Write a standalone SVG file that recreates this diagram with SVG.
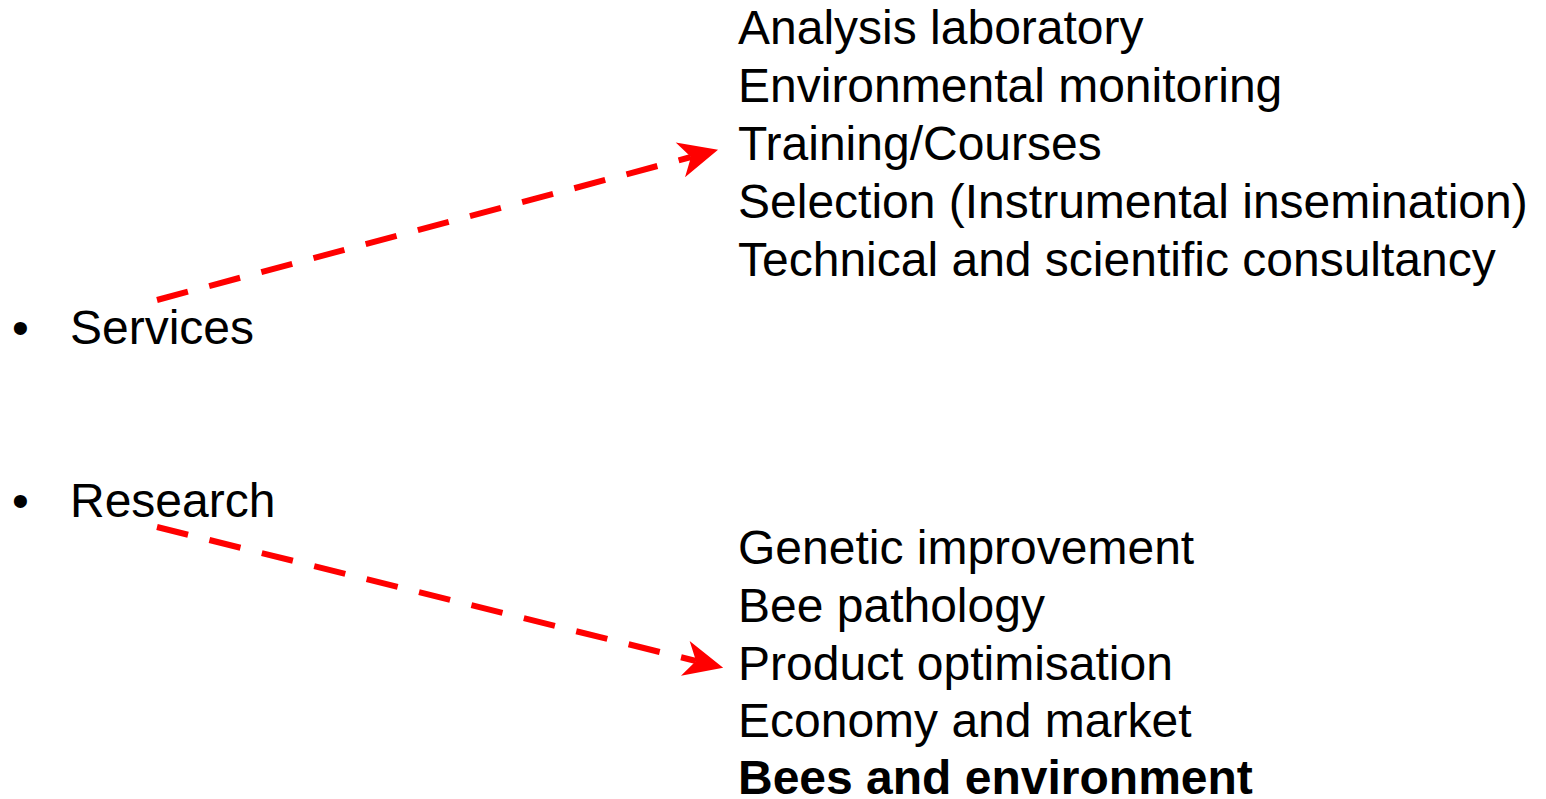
<svg xmlns="http://www.w3.org/2000/svg" width="1546" height="799" viewBox="0 0 1546 799">
  <style>
    text { font-family: "Liberation Sans", Arial, sans-serif; font-size: 48px; fill: #000; }
    .bold { font-weight: bold; }
    .link { fill: none; stroke: #ff0000; stroke-width: 6; stroke-dasharray: 32 22; marker-end: url(#stealth); }
  </style>
  <defs>
    <marker id="stealth" markerUnits="userSpaceOnUse" markerWidth="60" markerHeight="60" refX="0" refY="0" orient="auto" overflow="visible" viewBox="-30 -30 60 60">
      <path d="M28,0 L-11,-18 L0,0 L-11,18 Z" fill="#ff0000"/>
    </marker>
  </defs>

  <g id="services">
    <text x="12" y="344">•</text>
    <text x="70" y="344">Services</text>
  </g>

  <g id="research">
    <text x="12" y="517">•</text>
    <text x="70" y="517">Research</text>
  </g>

  <g id="services-list">
    <text x="738" y="44">Analysis laboratory</text>
    <text x="738" y="102">Environmental monitoring</text>
    <text x="738" y="160">Training/Courses</text>
    <text x="738" y="218">Selection (Instrumental insemination)</text>
    <text x="738" y="276">Technical and scientific consultancy</text>
  </g>

  <g id="research-list">
    <text x="738" y="564">Genetic improvement</text>
    <text x="738" y="622">Bee pathology</text>
    <text x="738" y="680">Product optimisation</text>
    <text x="738" y="737">Economy and market</text>
    <text x="738" y="794" class="bold">Bees and environment</text>
  </g>

  <g id="connectors">
    <path class="link" d="M157,300 L691,157"/>
    <path class="link" d="M157,527 L696,661"/>
  </g>
</svg>
